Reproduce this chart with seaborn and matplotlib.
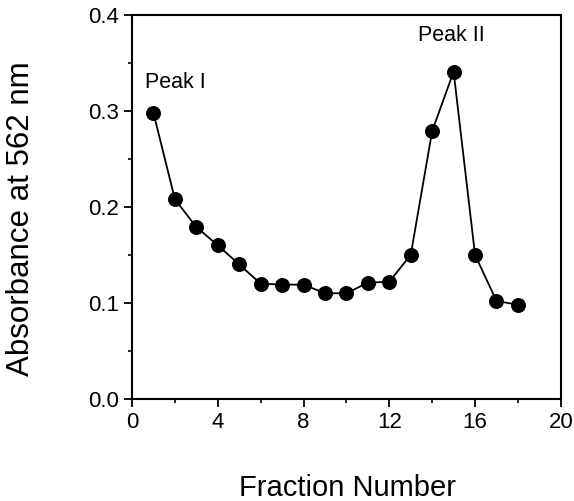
import seaborn as sns
import matplotlib.pyplot as plt
from matplotlib.ticker import MultipleLocator

# data
fraction = [1, 2, 3, 4, 5, 6, 7, 8, 9, 10, 11, 12, 13, 14, 15, 16, 17, 18]
absorbance = [0.298, 0.208, 0.179, 0.160, 0.140, 0.120, 0.119, 0.119, 0.110,
              0.110, 0.121, 0.122, 0.150, 0.279, 0.341, 0.150, 0.102, 0.098]

sns.set_style("ticks")
plt.rcParams['font.family'] = ['Liberation Sans', 'DejaVu Sans']
plt.rcParams['text.color'] = 'black'
plt.rcParams['axes.labelcolor'] = 'black'
plt.rcParams['xtick.color'] = 'black'
plt.rcParams['ytick.color'] = 'black'

fig = plt.figure(figsize=(5.74, 5.01), dpi=100)
ax = fig.add_axes([0.230, 0.204, 0.747, 0.766])

sns.lineplot(x=fraction, y=absorbance, ax=ax, color="black", linewidth=1.3,
             marker="o", markersize=10, markeredgecolor="black")

ax.set_xlim(0, 20)
ax.set_ylim(0, 0.4)
ax.xaxis.set_major_locator(MultipleLocator(4))
ax.xaxis.set_minor_locator(MultipleLocator(2))
ax.yaxis.set_major_locator(MultipleLocator(0.1))
ax.yaxis.set_minor_locator(MultipleLocator(0.05))
ax.yaxis.set_major_formatter(plt.FormatStrFormatter("%.1f"))
ax.tick_params(which="major", length=6, width=1.3, labelsize=16, color="black")
ax.tick_params(which="minor", length=3, width=1.2, color="black")
for s in ax.spines.values():
    s.set_linewidth(1.5)
    s.set_color("black")

ax.text(0.6, 0.33, "Peak I", fontsize=15.5, va="center", ha="left")
ax.text(14.9, 0.379, "Peak II", fontsize=15.5, va="center", ha="center")

ax.set_xlabel("Fraction Number", fontsize=21)
ax.set_ylabel("Absorbance at 562 nm", fontsize=22.5)
ax.xaxis.set_label_coords(0.502, -0.195)
ax.yaxis.set_label_coords(-0.224, 0.47)

fig.savefig("out.png", dpi=100)
